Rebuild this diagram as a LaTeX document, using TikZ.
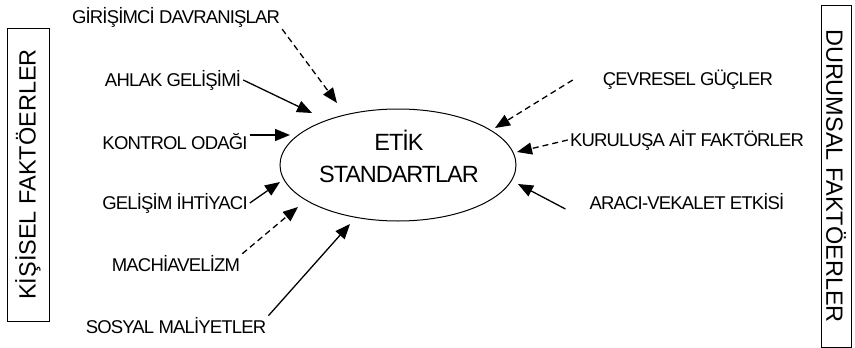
\documentclass[tikz,border=0pt]{standalone}
\usepackage{fontspec}
\setmainfont{Liberation Sans}
\newfontfamily\dar[LetterSpace=-4.5]{Liberation Sans}
\usetikzlibrary{arrows.meta,shapes.geometric}

\tikzstyle{etken} = [inner sep=2pt, font=\dar\fontsize{18.5}{20}\selectfont]
\tikzstyle{kutu} = [draw, line width=1pt, inner sep=0pt, font=\fontsize{23.5}{26}\selectfont]
\tikzstyle{ok} = [line width=1.3pt, -{Triangle[length=15pt,width=12pt]}]
\tikzstyle{kesik} = [ok, dash pattern=on 6pt off 4pt]

\begin{document}
\begin{tikzpicture}[x=1pt, y=-1pt]
\useasboundingbox (0,0) rectangle (855,348);
%kutular
\node[kutu, rotate=90, minimum width=293pt, minimum height=42pt] (kisisel) at (28,174.5) {KİŞİSEL FAKTÖERLER};
\node[kutu, rotate=-90, minimum width=342pt, minimum height=30pt] (durumsal) at (836,176) {DURUMSAL FAKTÖERLER};
%orta
\node[draw, ellipse, line width=1pt, minimum width=236pt, minimum height=112pt] (etik) at (398,165) {};
\node[align=center, font=\dar\fontsize{23.5}{32}\selectfont] (baslik) at (399,156) {ETİK\\STANDARTLAR};
%sol etkenler
\node[etken] (giri) at (176,17) {GİRİŞİMCİ DAVRANIŞLAR};
\node[etken] (ahlak) at (173,80) {AHLAK GELİŞİMİ};
\node[etken] (kontrol) at (175,142) {KONTROL ODAĞI};
\node[etken] (gelisim) at (175,203) {GELİŞİM İHTİYACI};
\node[etken] (machi) at (176,264) {MACHİAVELİZM};
\node[etken] (sosyal) at (176,326) {SOSYAL MALİYETLER};
%sag etkenler
\node[etken] (cevre) at (688,80) {ÇEVRESEL GÜÇLER};
\node[etken] (kurulus) at (687,140) {KURULUŞA AİT FAKTÖRLER};
\node[etken] (araci) at (687,202) {ARACI-VEKALET ETKİSİ};
%ok uclari
\coordinate (u-giri) at (337,103);
\coordinate (u-ahlak) at (312,113);
\coordinate (u-kontrol) at (290,135);
\coordinate (u-gelisim) at (280,182);
\coordinate (u-machi) at (298,207);
\coordinate (u-sosyal) at (350,224);
\coordinate (u-cevre) at (495,128);
\coordinate (u-kurulus) at (517,152);
\coordinate (u-araci) at (518,184);
%oklar
\draw[kesik] (giri.south east) -- (u-giri);
\draw[ok] (ahlak.east) -- (u-ahlak);
\draw[ok] ([yshift=7pt]kontrol.east) -- (u-kontrol);
\draw[ok] (gelisim.east) -- (u-gelisim);
\draw[kesik] (machi.north east) -- (u-machi);
\draw[ok] (sosyal.north east) -- (u-sosyal);
\draw[kesik] ([xshift=-28pt]cevre.west) -- (u-cevre);
\draw[kesik] (kurulus.west) -- (u-kurulus);
\draw[ok] ([xshift=-22pt,yshift=-7pt]araci.west) -- (u-araci);
\end{tikzpicture}
\end{document}
